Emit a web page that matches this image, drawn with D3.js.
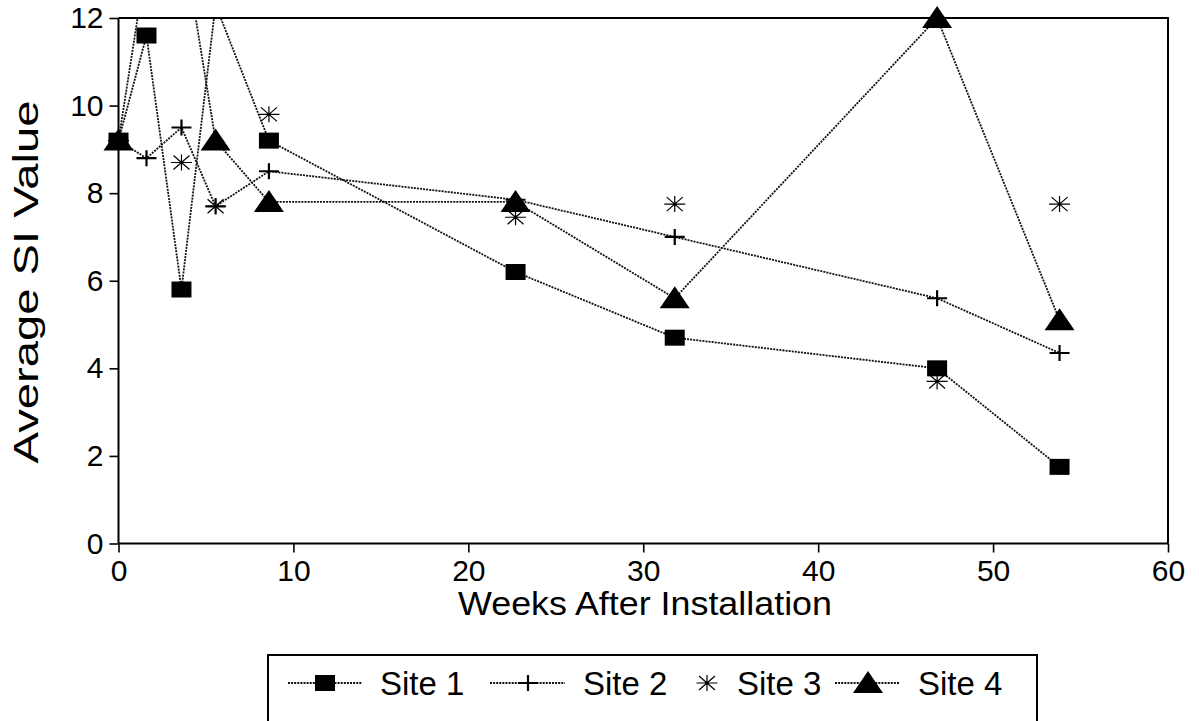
<!DOCTYPE html>
<html>
<head>
<meta charset="utf-8">
<script src="https://cdn.jsdelivr.net/npm/d3@7"></script>
<style>
  body { margin: 0; background: #fff; }
  svg { display: block; }
  .tick text { font-family: "Liberation Sans", Arial, sans-serif; font-size: 30px; fill: #000; }
  .axisTitle { font-family: "Liberation Sans", Arial, sans-serif; fill: #000; }
  .legendTxt { font-family: "Liberation Sans", Arial, sans-serif; font-size: 33px; fill: #000; }
</style>
</head>
<body>
<div id="chart"></div>
<script>
// weeks after installation (sampling dates)
var weeks = [0, 1.6, 3.6, 5.55, 8.6, 22.7, 31.8, 46.8, 53.8];
// average SI value per site (values above 12 run off the top of the plot)
var site1 = [9.2, 11.6, 5.8, 12.3, 9.2, 6.2, 4.7, 4.0, 1.75];
var site2 = [9.2, 8.8, 9.5, 7.7, 8.5, 7.85, 7.0, 5.6, 4.35];
var site3 = [9.2, null, 8.7, 7.7, 9.8, 7.45, 7.75, 3.7, 7.75];
var site4 = [9.2, 13.3, 14.0, 9.2, 7.8, 7.8, 5.6, 12.0, 5.1];
var siteNames = ["Site 1", "Site 2", "Site 3", "Site 4"];
var siteSymbols = ["square", "plus", "asterisk", "triangle"];
var siteHasLine = [true, true, false, true];
var xTicks = [0, 10, 20, 30, 40, 50, 60];
var yTicks = [0, 2, 4, 6, 8, 10, 12];

var W = 1199, H = 721;
var svg = d3.select("#chart").append("svg").attr("width", W).attr("height", H);

var x = d3.scaleLinear().domain([0, 60]).range([118.5, 1168]);
var y = d3.scaleLinear().domain([0, 12]).range([543.5, 18]);

// symbol painter
function drawSymbol(g, type) {
  if (type == "square") {
    g.append("rect").attr("x", -10).attr("y", -8).attr("width", 20).attr("height", 16).attr("fill", "#000");
  } else if (type == "triangle") {
    g.append("path").attr("d", "M0,-12L15,10L-15,10Z").attr("fill", "#000");
  } else if (type == "plus") {
    g.append("path").attr("d", "M-10,0H10M0,-8V8").attr("stroke", "#000").attr("stroke-width", 2.2).attr("fill", "none");
  } else if (type == "asterisk") {
    g.append("path").attr("d", "M-10.5,0H10.5M0,-8V8M-8,-7L8,7M-8,7L8,-7")
      .attr("stroke", "#000").attr("stroke-width", 1.2).attr("fill", "none");
    g.append("circle").attr("r", 1.6).attr("fill", "#000");
  }
}

svg.append("clipPath").attr("id", "plotClip")
  .append("rect").attr("x", x(0)).attr("y", y(12)).attr("width", x(60) - x(0)).attr("height", y(0) - y(12));

// axes
var xAxis = svg.append("g").attr("class", "xAxis")
  .attr("transform", "translate(0," + y(0) + ")")
  .call(d3.axisBottom(x).tickValues(xTicks).tickSize(9).tickPadding(7).tickFormat(d3.format("d")));
var yAxis = svg.append("g").attr("class", "yAxis")
  .attr("transform", "translate(" + x(0) + ",0)")
  .call(d3.axisLeft(y).tickValues(yTicks).tickSize(9).tickPadding(6).tickFormat(d3.format("d")));
svg.selectAll(".domain").attr("stroke", "#000").attr("stroke-width", 2);
svg.selectAll(".tick line").attr("stroke", "#000").attr("stroke-width", 1.6);
xAxis.select(".domain").attr("d", "M" + x(0) + ",0H" + x(60));
yAxis.select(".domain").attr("d", "M0," + y(0) + "V" + y(12));

// frame top and right
svg.append("path")
  .attr("d", "M" + x(0) + "," + y(12) + "H" + x(60) + "V" + y(0))
  .attr("stroke", "#000").attr("stroke-width", 2).attr("fill", "none");

var series = [site1, site2, site3, site4];
var line = d3.line()
  .defined(function(d) { return d.v != null; })
  .x(function(d) { return x(d.w); })
  .y(function(d) { return y(d.v); });

var plotG = svg.append("g");
series.forEach(function(vals, si) {
  var pts = weeks.map(function(w, i) { return { w: w, v: vals[i] }; });
  if (siteHasLine[si]) {
    plotG.append("path")
      .datum(pts)
      .attr("clip-path", "url(#plotClip)")
      .attr("d", line)
      .attr("fill", "none")
      .attr("stroke", "#111")
      .attr("stroke-width", 1.8)
      .attr("stroke-dasharray", "2,1.1");
  }
  pts.filter(function(d) { return d.v != null && d.v <= 12; }).forEach(function(d) {
    var g = plotG.append("g").attr("transform", "translate(" + x(d.w) + "," + y(d.v) + ")");
    drawSymbol(g, siteSymbols[si]);
  });
});

// axis titles
svg.append("text").attr("class", "axisTitle")
  .attr("x", 645).attr("y", 615).attr("text-anchor", "middle")
  .style("font-size", "34px")
  .attr("textLength", 374).attr("lengthAdjust", "spacingAndGlyphs")
  .text("Weeks After Installation");
svg.append("text").attr("class", "axisTitle")
  .attr("transform", "translate(38,282) rotate(-90)").attr("text-anchor", "middle")
  .style("font-size", "35px")
  .attr("textLength", 363).attr("lengthAdjust", "spacingAndGlyphs")
  .text("Average SI Value");

// legend
var legTop = 655;
svg.append("rect").attr("x", 268).attr("y", legTop).attr("width", 769).attr("height", 90)
  .attr("fill", "none").attr("stroke", "#000").attr("stroke-width", 2);
var legSym = [[288, 362, 325], [490, 565, 528], [null, null, 707], [835, 900, 868]];
var legTextX = [380, 583, 737, 918];
var legY = 683;
siteNames.forEach(function(name, i) {
  if (siteHasLine[i]) {
    svg.append("line").attr("x1", legSym[i][0]).attr("x2", legSym[i][1]).attr("y1", legY).attr("y2", legY)
      .attr("stroke", "#111").attr("stroke-width", 1.8).attr("stroke-dasharray", "2,1.1");
  }
  var g = svg.append("g").attr("transform", "translate(" + legSym[i][2] + "," + legY + ")");
  drawSymbol(g, siteSymbols[i]);
  svg.append("text").attr("class", "legendTxt").attr("x", legTextX[i]).attr("y", legY + 12).text(name);
});
</script>
</body>
</html>
